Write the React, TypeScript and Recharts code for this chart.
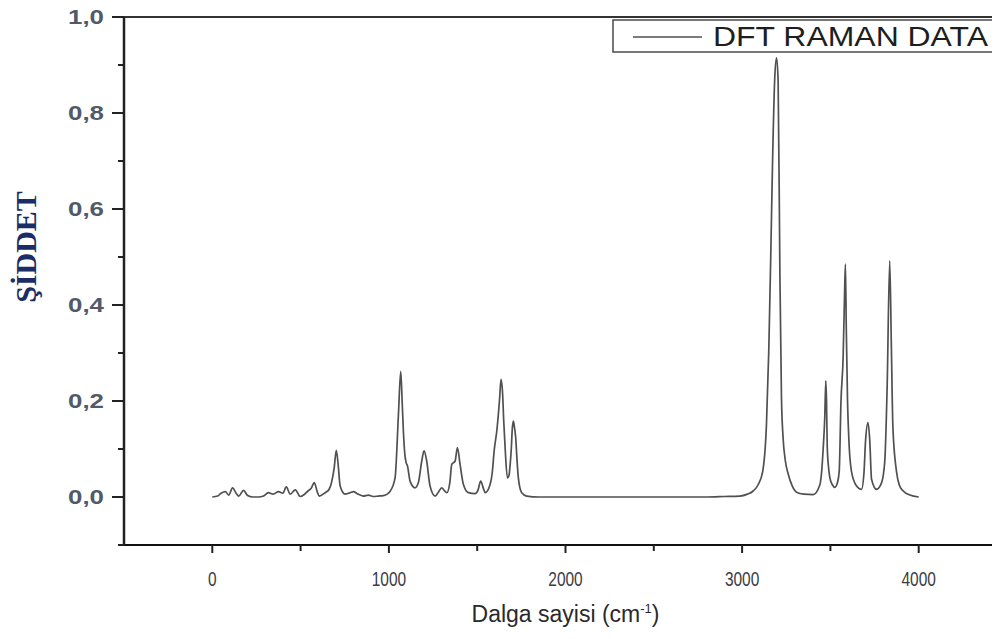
import React from 'react';
import { LineChart, Line, XAxis, YAxis, ReferenceLine, Legend } from 'recharts';

// Wavenumbers (cm^-1)
const wavenumbers = [
  0, 30, 50, 74, 93, 115, 135, 150, 177, 200, 230, 260, 290, 318, 345, 375, 400, 419, 441, 470,
  498, 520, 543, 560, 577, 595, 605, 639, 660, 677, 690, 702, 712, 724, 752, 781, 800, 820, 855, 883,
  911, 940, 968, 990, 1007, 1035, 1054, 1067, 1075, 1082, 1090, 1098, 1105, 1120, 1148, 1167, 1186, 1199, 1214, 1233,
  1262, 1280, 1299, 1315, 1328, 1345, 1356, 1375, 1388, 1403, 1422, 1450, 1488, 1505, 1520, 1535, 1545, 1573, 1585, 1596,
  1611, 1626, 1635, 1644, 1650, 1658, 1671, 1680, 1686, 1693, 1699, 1705, 1711, 1718, 1725, 1733, 1752, 1780, 1850, 2000,
  2500, 2800, 2900, 2987, 3030, 3061, 3090, 3117, 3138, 3151, 3163, 3172, 3185, 3195, 3204, 3214, 3223, 3232, 3245, 3261,
  3285, 3308, 3350, 3402, 3440, 3452, 3459, 3468, 3474, 3478, 3482, 3490, 3497, 3512, 3525, 3540, 3550, 3560, 3572, 3580,
  3585, 3590, 3597, 3604, 3619, 3648, 3676, 3690, 3699, 3713, 3723, 3733, 3761, 3790, 3808, 3821, 3836, 3845, 3854, 3874,
  3890, 3911, 3950, 4000,
];

// Raman intensities
const intensities = [
  0, 0.002, 0.008, 0.011, 0.004, 0.019, 0.008, 0.002, 0.014, 0.003, 0.0, 0.0, 0.002, 0.009, 0.006, 0.011, 0.008, 0.021, 0.006, 0.015,
  0.001, 0.005, 0.013, 0.018, 0.03, 0.01, 0.002, 0.009, 0.015, 0.033, 0.06, 0.097, 0.07, 0.023, 0.006, 0.009, 0.011, 0.007, 0.002, 0.004,
  0.001, 0.002, 0.003, 0.006, 0.012, 0.04, 0.172, 0.262, 0.2, 0.137, 0.09, 0.071, 0.065, 0.033, 0.019, 0.03, 0.075, 0.096, 0.075, 0.023,
  0.002, 0.01, 0.019, 0.013, 0.009, 0.03, 0.068, 0.075, 0.103, 0.068, 0.026, 0.009, 0.007, 0.015, 0.033, 0.018, 0.009, 0.026, 0.05, 0.096,
  0.138, 0.2, 0.245, 0.214, 0.16, 0.103, 0.04, 0.045, 0.065, 0.1, 0.144, 0.158, 0.145, 0.124, 0.08, 0.04, 0.009, 0.002, 0.0, 0,
  0, 0, 0.001, 0.002, 0.006, 0.012, 0.025, 0.054, 0.152, 0.304, 0.516, 0.69, 0.874, 0.915, 0.867, 0.464, 0.207, 0.124, 0.075, 0.048,
  0.022, 0.01, 0.006, 0.005, 0.025, 0.06, 0.1, 0.165, 0.242, 0.2, 0.106, 0.06, 0.04, 0.025, 0.02, 0.03, 0.054, 0.2, 0.29, 0.42,
  0.485, 0.35, 0.2, 0.124, 0.054, 0.023, 0.016, 0.05, 0.117, 0.155, 0.117, 0.037, 0.016, 0.03, 0.075, 0.224, 0.492, 0.318, 0.144, 0.054,
  0.025, 0.013, 0.004, 0,
];

const xTicks = [-500, 0, 500, 1000, 1500, 2000, 2500, 3000, 3500, 4000, 4500];
const yTicks = [-0.1, 0, 0.1, 0.2, 0.3, 0.4, 0.5, 0.6, 0.7, 0.8, 0.9, 1.0];
const xDomain = [-500, 4500];
const yDomain = [-0.1, 1.0];
const seriesName = 'DFT RAMAN DATA';

const data = wavenumbers.map((w, i) => ({ x: w, y: intensities[i] }));

const XTick = (props: any) => {
  const { x, y, payload } = props;
  const v = payload.value;
  const major = v % 1000 === 0;
  if (v <= -500 || v >= 4500) return null;
  const label = String(v);
  return (
    <g>
      <line x1={x} y1={y} x2={x} y2={y + (major ? 8 : 6)} stroke="#222" strokeWidth={2} />
      {major && (
        <text x={x} y={y + 41} textAnchor="middle" fontFamily="Liberation Sans, Arial, sans-serif" fontSize={21}
          fill="#3c3c44" textLength={label.length * 8.6} lengthAdjust="spacingAndGlyphs">
          {label}
        </text>
      )}
    </g>
  );
};

const YTick = (props: any) => {
  const { x, y, payload } = props;
  const v = payload.value;
  const k = Math.round(v * 10);
  const major = k >= 0 && k % 2 === 0;
  return (
    <g>
      <line x1={x - (major ? 12 : 6)} y1={y} x2={x} y2={y} stroke="#222" strokeWidth={2} />
      {major && (
        <text x={x - 20} y={y + 7} textAnchor="end" fontFamily="Liberation Sans, Arial, sans-serif" fontSize={20} fontWeight="bold"
          fill="#525a68" textLength={36} lengthAdjust="spacingAndGlyphs">
          {v.toFixed(1).replace('.', ',')}
        </text>
      )}
    </g>
  );
};

const XLabel = (props: any) => {
  const { viewBox } = props;
  const cx = viewBox.x + viewBox.width / 2;
  const y = viewBox.y + 77;
  return (
    <text x={cx} y={y} textAnchor="middle" fontFamily="Liberation Sans, Arial, sans-serif" fontSize={23} fill="#2a2a2a">
      Dalga sayisi (cm
      <tspan dy={-9} fontSize={13}>-1</tspan>
      <tspan dy={9}>)</tspan>
    </text>
  );
};

const YLabel = (props: any) => {
  const { viewBox } = props;
  const cx = 17;
  const cy = viewBox.y + viewBox.height / 2 - 34;
  return (
    <text x={cx} y={cy} transform={`rotate(-90, ${cx}, ${cy})`} textAnchor="middle" dominantBaseline="central"
      fontFamily="Liberation Serif, Times New Roman, serif" fontWeight="bold" fontSize={30} fill="#1b2d66">
      ŞİDDET
    </text>
  );
};

const LegendBox = () => (
  <svg width={386} height={34} style={{ display: 'block' }}>
    <rect x={1} y={1} width={384} height={32} fill="#fff" stroke="#555" strokeWidth={1.6} />
    <line x1={21} y1={18} x2={90} y2={18} stroke="#505050" strokeWidth={1.6} />
    <text x={101} y={27} fontFamily="Liberation Sans, Arial, sans-serif" fontSize={27} fill="#1e1e1e" textLength={275} lengthAdjust="spacingAndGlyphs">
      {seriesName}
    </text>
  </svg>
);

export default function App() {
  return (
    <div style={{ width: 992, height: 636, marginTop: -8, overflow: 'hidden' }}>
      <LineChart width={1012} height={634} data={data} margin={{ top: 17, right: 13, bottom: 49, left: 56 }}>
        <XAxis
          type="number"
          dataKey="x"
          domain={xDomain}
          ticks={xTicks}
          allowDataOverflow
          tickSize={0}
          tickMargin={0}
          tickLine={false}
          tick={<XTick />}
          axisLine={{ stroke: '#111', strokeWidth: 2 }}
          height={40}
          label={<XLabel />}
        />
        <YAxis
          type="number"
          domain={yDomain}
          ticks={yTicks}
          allowDataOverflow
          tickSize={0}
          tickMargin={0}
          tickLine={false}
          tick={<YTick />}
          axisLine={{ stroke: '#222', strokeWidth: 2.5 }}
          width={60}
          label={<YLabel />}
        />
        <ReferenceLine y={1.0} stroke="#333" strokeWidth={2} />
        <ReferenceLine x={4500} stroke="#333" strokeWidth={2} />
        <Legend
          layout="vertical"
          align="center"
          verticalAlign="middle"
          wrapperStyle={{ left: 604, top: 19, width: 386 }}
          content={<LegendBox />}
        />
        <Line type="monotone" dataKey="y" name={seriesName} stroke="#505050" strokeWidth={1.7} dot={false} isAnimationActive={false} />
      </LineChart>
    </div>
  );
}
